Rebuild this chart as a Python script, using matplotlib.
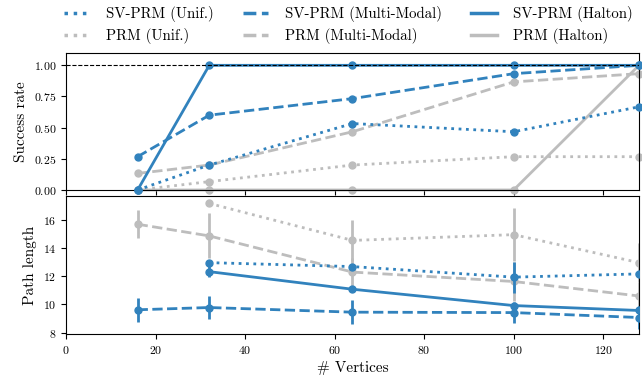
import matplotlib
matplotlib.use("Agg")
import matplotlib.pyplot as plt
from matplotlib.lines import Line2D

plt.rcParams["font.family"] = "serif"
plt.rcParams["font.serif"] = ["cmr10", "DejaVu Serif"]
plt.rcParams["axes.formatter.use_mathtext"] = True
plt.rcParams["mathtext.fontset"] = "cm"

vertices = [16, 32, 64, 100, 128]
BLUE = "#3182bd"
GRAY = "#bdbdbd"

# success rate
sv_unif_sr = [0.0, 0.2, 0.533, 0.467, 0.667]
sv_mm_sr = [0.267, 0.6, 0.733, 0.933, 1.0]
sv_halton_sr = [0.0, 1.0, 1.0, 1.0, 1.0]
prm_unif_sr = [0.0, 0.067, 0.2, 0.267, 0.267]
prm_mm_sr = [0.133, 0.2, 0.467, 0.867, 0.933]
prm_halton_sr = [0.0, 0.0, 0.0, 0.0, 1.0]

# path length (mean, std); None where no path was found
sv_unif_pl = [None, 12.97, 12.69, 11.94, 12.17]
sv_unif_err = [0, 0.0, 0.0, 1.1, 0.0]
sv_mm_pl = [9.62, 9.78, 9.45, 9.42, 9.07]
sv_mm_err = [0.85, 0.85, 0.85, 0.75, 0.8]
sv_halton_pl = [None, 12.33, 11.08, 9.92, 9.57]
sv_halton_err = [0, 0.4, 0.0, 0.0, 0.0]
prm_unif_pl = [None, 17.18, 14.55, 14.96, 12.97]
prm_unif_err = [0, 0.0, 1.45, 1.87, 1.4]
prm_mm_pl = [15.7, 14.87, 12.3, 11.63, 10.6]
prm_mm_err = [1.0, 1.6, 1.0, 1.4, 1.0]

series = [
    ("SV-PRM (Unif.)", BLUE, ":", sv_unif_sr, sv_unif_pl, sv_unif_err),
    ("PRM (Unif.)", GRAY, ":", prm_unif_sr, prm_unif_pl, prm_unif_err),
    ("SV-PRM (Multi-Modal)", BLUE, "--", sv_mm_sr, sv_mm_pl, sv_mm_err),
    ("PRM (Multi-Modal)", GRAY, "--", prm_mm_sr, prm_mm_pl, prm_mm_err),
    ("SV-PRM (Halton)", BLUE, "-", sv_halton_sr, sv_halton_pl, sv_halton_err),
    ("PRM (Halton)", GRAY, "-", prm_halton_sr, None, None),
]

fig = plt.figure(figsize=(6.42, 3.83), dpi=100)
ax1 = fig.add_axes([0.1028, 0.504, 0.8925, 0.358])
ax2 = fig.add_axes([0.1028, 0.128, 0.8925, 0.360], sharex=ax1)

handles = []
for name, col, ls, sr, pl, err in series:
    z = 3 if col == BLUE else 2
    ax1.plot(vertices, sr, ls, color=col, lw=2, marker="o", ms=5,
             zorder=z, clip_on=False)
    handles.append(Line2D([], [], ls=ls, color=col, lw=2.5, label=name))
    if pl is not None:
        xs = [v for v, p in zip(vertices, pl) if p is not None]
        ys = [p for p in pl if p is not None]
        es = [e for e, p in zip(err, pl) if p is not None]
        ax2.errorbar(xs, ys, yerr=es, ls=ls, color=col, lw=2, marker="o",
                     ms=5, elinewidth=2, capsize=0, zorder=z)

ax1.axhline(1.0, color="black", ls="--", lw=0.8, zorder=5)
ax1.set_ylim(0, 1.1)
ax1.set_yticks([0, 0.25, 0.5, 0.75, 1.0])
ax1.set_ylabel("Success rate", fontsize=11)
ax1.tick_params(labelbottom=False, labelsize=8.5)

ax2.set_xlim(0, 128)
ax2.set_ylim(7.9, 17.7)
ax2.set_yticks([8, 10, 12, 14, 16])
ax2.set_xticks([0, 20, 40, 60, 80, 100, 120])
ax2.set_ylabel("Path length", fontsize=11)
ax2.set_xlabel("# Vertices", fontsize=11)
ax2.tick_params(labelsize=8.5)

fig.legend(handles=handles, loc="upper right", ncol=3, frameon=False,
           fontsize=10.7, bbox_to_anchor=(0.995, 1.0), borderaxespad=0,
           handlelength=1.7, handletextpad=1.1, columnspacing=2.0,
           labelspacing=0.4)

fig.savefig("out.png", dpi=100)
